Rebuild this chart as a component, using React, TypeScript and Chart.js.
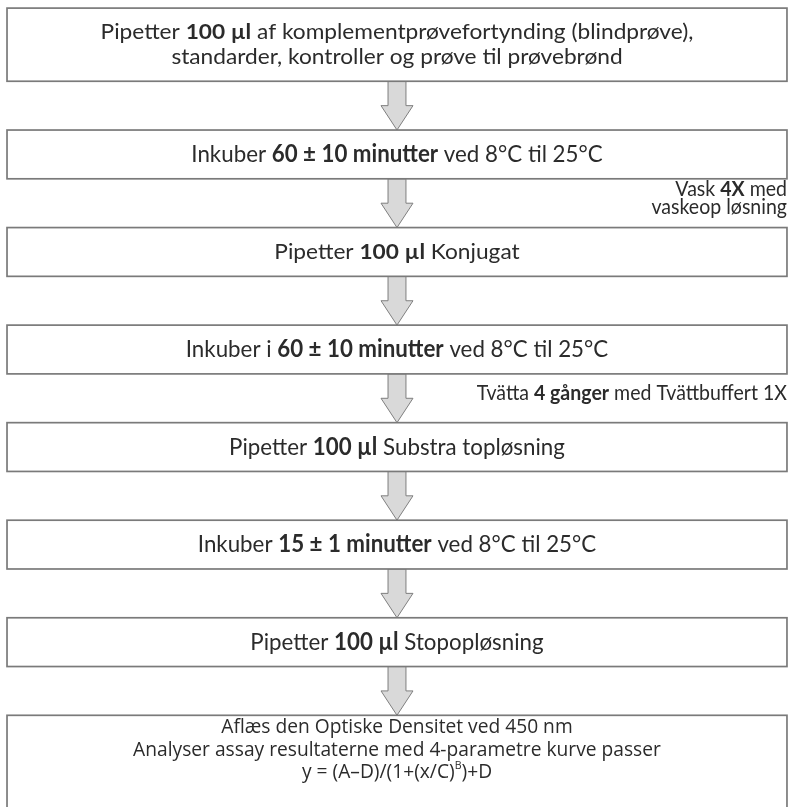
import { useEffect, useRef } from "react";
import { Chart, registerables } from "chart.js";

Chart.register(...registerables);

// ---------- data ----------
const stepLines: string[][] = [
  [
    "Pipetter **100 µl** af komplementprøvefortynding (blindprøve),",
    "standarder, kontroller og prøve til prøvebrønd",
  ],
  ["Inkuber **60 ± 10 minutter** ved 8°C til 25°C"],
  ["Pipetter **100 µl** Konjugat"],
  ["Inkuber i **60 ± 10 minutter** ved 8°C til 25°C"],
  ["Pipetter **100 µl** Substra topløsning"],
  ["Inkuber **15 ± 1 minutter** ved 8°C til 25°C"],
  ["Pipetter **100 µl** Stopopløsning"],
  [
    "Aflæs den Optiske Densitet ved 450 nm",
    "Analyser assay resultaterne med 4-parametre kurve passer",
    "y = (A–D)/(1+(x/C)^{B})+D",
  ],
];

const washNoteAfterStep: number[] = [1, 3];
const washNoteLines: string[][] = [
  ["Vask **4X** med", "vaskeop løsning"],
  ["Tvätta **4 gånger** med Tvättbuffert 1X"],
];

// ---------- styles ----------
type TextStyle = { family: string; size: number; scaleX: number; lineGap: number };
const TEXT_STYLES: Record<string, TextStyle> = {
  wide: { family: "Lato", size: 21, scaleX: 1.08, lineGap: 0.256 },
  cond: { family: "Lato", size: 24, scaleX: 0.93, lineGap: 0.25 },
  final: { family: "'Open Sans'", size: 20, scaleX: 0.96, lineGap: 0.228 },
  note: { family: "Lato", size: 21, scaleX: 0.93, lineGap: 0.19 },
};
const stepStyle = ["wide", "cond", "wide", "cond", "cond", "cond", "cond", "final"];
const TEXT_COLOR = "#2b2b2b";
const BOX_STROKE = "#7a7a7a";
const ARROW_FILL = "#d9d9d9";
const ARROW_STROKE = "#7f7f7f";

type Seg = { t: string; b: boolean; sup: boolean };
function parseRich(s: string): Seg[] {
  return s
    .split(/(\*\*[^*]+\*\*|\^\{[^}]+\})/)
    .filter((p) => p.length > 0)
    .map((p) =>
      p.startsWith("**")
        ? { t: p.slice(2, -2), b: true, sup: false }
        : p.startsWith("^{")
        ? { t: p.slice(2, -1), b: false, sup: true }
        : { t: p, b: false, sup: false }
    );
}

function drawRich(
  ctx: CanvasRenderingContext2D,
  s: string,
  x: number,
  y: number,
  st: TextStyle,
  align: "center" | "right"
) {
  const segs = parseRich(s);
  const fontFor = (g: Seg) =>
    `${g.b ? 700 : 400} ${g.sup ? Math.round(st.size * 0.55) : st.size}px ${st.family}`;
  let w = 0;
  const widths: number[] = [];
  for (const g of segs) {
    ctx.font = fontFor(g);
    const m = ctx.measureText(g.t).width;
    widths.push(m);
    w += m;
  }
  const total = w * st.scaleX;
  const x0 = align === "center" ? x - total / 2 : x - total;
  ctx.save();
  ctx.translate(x0, y);
  ctx.scale(st.scaleX, 1);
  ctx.textBaseline = "middle";
  ctx.textAlign = "left";
  ctx.fillStyle = TEXT_COLOR;
  let cx = 0;
  segs.forEach((g, k) => {
    ctx.font = fontFor(g);
    ctx.fillText(g.t, cx, g.sup ? -st.size * 0.33 : 0);
    cx += widths[k];
  });
  ctx.restore();
}

const BOX_H = 0.5; // box height in row units
const EXTRA_LINE = 0.25;

function boxExtent(i: number) {
  const n = stepLines[i].length;
  const extra = EXTRA_LINE * (n - 1);
  if (i === 0) return { top: i - extra, bottom: i + BOX_H };
  return { top: i, bottom: i + BOX_H + extra };
}

const flowPlugin = {
  id: "flow",
  afterDraw(chart: any) {
    const ctx: CanvasRenderingContext2D = chart.ctx;
    const xs = chart.scales.x;
    const ys = chart.scales.y;
    const px = (v: number) => xs.getPixelForValue(v);
    const py = (v: number) => ys.getPixelForValue(v);
    const last = stepLines.length - 1;

    // arrows
    for (let i = 0; i < last; i++) {
      const b = boxExtent(i).bottom;
      const t = boxExtent(i + 1).top;
      const m = (b + t) / 2;
      const sh = 1.15;
      const hh = 2.05;
      ctx.save();
      ctx.beginPath();
      ctx.moveTo(px(50 - sh), py(b));
      ctx.lineTo(px(50 + sh), py(b));
      ctx.lineTo(px(50 + sh), py(m));
      ctx.lineTo(px(50 + hh), py(m));
      ctx.lineTo(px(50), py(t));
      ctx.lineTo(px(50 - hh), py(m));
      ctx.lineTo(px(50 - sh), py(m));
      ctx.closePath();
      ctx.fillStyle = ARROW_FILL;
      ctx.fill();
      ctx.strokeStyle = ARROW_STROKE;
      ctx.lineWidth = 1;
      ctx.stroke();
      ctx.restore();
    }

    // boxes + text
    stepLines.forEach((lines, i) => {
      const { top, bottom } = boxExtent(i);
      const x0 = px(0);
      const x1 = px(100);
      const y0 = py(top);
      const y1 = py(bottom);
      ctx.save();
      ctx.fillStyle = "#ffffff";
      ctx.fillRect(x0, y0, x1 - x0, y1 - y0);
      ctx.strokeStyle = BOX_STROKE;
      ctx.lineWidth = 1.7;
      ctx.strokeRect(x0, y0, x1 - x0, y1 - y0);
      ctx.restore();

      const st = TEXT_STYLES[stepStyle[i]];
      const n = lines.length;
      const center = i === last ? top + 0.355 : (top + bottom) / 2;
      lines.forEach((ln, k) => {
        const yv = center + (k - (n - 1) / 2) * st.lineGap;
        drawRich(ctx, ln, px(50), py(yv), st, "center");
      });
    });

    // wash notes
    washNoteAfterStep.forEach((i, j) => {
      const b = boxExtent(i).bottom;
      const t = boxExtent(i + 1).top;
      const st = TEXT_STYLES.note;
      const lines = washNoteLines[j];
      const n = lines.length;
      const center = (b + t) / 2 - 0.05;
      lines.forEach((ln, k) => {
        const yv = center + (k - (n - 1) / 2) * st.lineGap;
        drawRich(ctx, ln, px(100), py(yv), st, "right");
      });
    });
  },
};

export default function App() {
  const ref = useRef<HTMLCanvasElement>(null);
  useEffect(() => {
    const canvas = ref.current;
    if (!canvas) return;
    const chart = new Chart(canvas, {
      type: "scatter",
      data: {
        datasets: [
          {
            data: stepLines.map((_, i) => ({ x: 50, y: i })),
            pointRadius: 0,
            showLine: false,
          },
        ],
      },
      options: {
        responsive: false,
        animation: false,
        events: [],
        layout: { padding: 0 },
        plugins: { legend: { display: false }, tooltip: { enabled: false } },
        scales: {
          x: { type: "linear", min: -0.9, max: 100.26, display: false },
          y: { type: "linear", min: -0.333, max: 7.94, reverse: true, display: false },
        },
      },
      plugins: [flowPlugin],
    } as any);
    return () => chart.destroy();
  }, []);
  return (
    <div style={{ position: "absolute", left: 0, top: 0, width: 789, height: 807, background: "#fff" }}>
      <canvas ref={ref} width={789} height={807} style={{ display: "block" }} />
    </div>
  );
}
